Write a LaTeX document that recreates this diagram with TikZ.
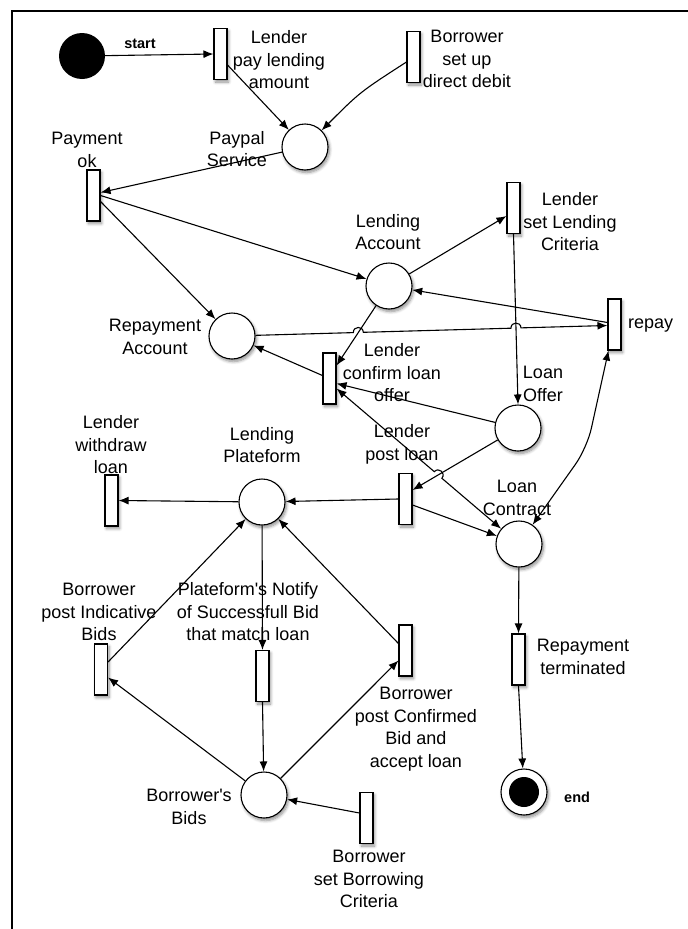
\documentclass[tikz,border=0pt]{standalone}
\usepackage{fontspec}
\setmainfont{Liberation Sans}[Ligatures=TeXOff]
\usetikzlibrary{arrows.meta,calc,intersections,shadows.blur}

\begin{document}
\begin{tikzpicture}[x=1pt,y=-1pt,
  shadowed/.style={blur shadow={shadow blur steps=6,shadow xshift=1.5pt,shadow yshift=-2.5pt,shadow blur radius=3pt,shadow opacity=45}},
  placenode/.style={circle,draw,line width=1.1pt,fill=white,minimum size=46pt,inner sep=0pt,shadowed},
  transnode/.style={rectangle,draw,line width=1.1pt,fill=white,minimum width=13pt,minimum height=51pt,inner sep=0pt,shadowed},
  lbl/.style={font=\fontsize{18}{22.5}\selectfont,align=center,inner sep=0pt},
  tag/.style={font=\bfseries\fontsize{14.5}{17}\selectfont,inner sep=0pt},
  flow/.style={draw,line width=1.1pt,-{Latex[length=10pt,width=8pt]}},
  flowboth/.style={draw,line width=1.1pt,{Latex[length=10pt,width=8pt]}-{Latex[length=10pt,width=8pt]}}]

\useasboundingbox (0,0) rectangle (688,929);
% open frame: top and left edges only
\draw[line width=1.6pt] (12,935) -- (12,11) -- (694,11);

% ---------- places ----------
\node[circle,fill=black,minimum size=46pt,inner sep=0pt] (st) at (82,56) {};
\node[placenode] (pp)   at (305,147) {};
\node[placenode] (la)   at (389,286) {};
\node[placenode] (ra)   at (232,336) {};
\node[placenode] (lo)   at (518,428) {};
\node[placenode] (lp)   at (262,502) {};
\node[placenode] (lc)   at (519,544) {};
\node[placenode] (bids) at (264,795) {};
\node[placenode,path picture={\fill[black] (path picture bounding box.center) circle[radius=15pt];}] (endc) at (524,792) {};

% ---------- transitions ----------
\node[transnode] (lpay)  at (220.5,54)  {};
\node[transnode] (dd)    at (413.5,57)  {};
\node[transnode] (pok)   at (93.5,195.5) {};
\node[transnode] (crit)  at (513.5,208) {};
\node[transnode] (repay) at (614.5,324.5) {};
\node[transnode] (conf)  at (329.5,378.5) {};
\node[transnode] (post)  at (405.5,499) {};
\node[transnode] (wd)    at (111.5,500.5) {};
\node[transnode] (pib)   at (101,669.5) {};
\node[transnode] (nt)    at (262.5,676) {};
\node[transnode] (pcb)   at (405.5,650.5) {};
\node[transnode] (rt)    at (518.5,659.5) {};
\node[transnode] (bsc)   at (366.5,818) {};

% ---------- labels ----------
\node[tag] (stL) at (140,44) {start};
\node[tag,anchor=west] (endL) at (564,797) {end};
\node[lbl] (lpayL) at (279,60) {Lender\\pay lending\\amount};
\node[lbl] (ddL)   at (467,59) {Borrower\\set up\\direct debit};
\node[lbl] (ppL)   at (237,149) {Paypal\\Service};
\node[lbl] (pokL)  at (87,150) {Payment\\ok};
\node[lbl] (laL)   at (388,232) {Lending\\Account};
\node[lbl] (critL) at (570,222) {Lender\\set Lending\\Criteria};
\node[lbl] (raL)   at (155,337) {Repayment\\Account};
\node[lbl,anchor=west] (repayL) at (628,326) {repay};
\node[lbl] (confL) at (392,373) {Lender\\confirm loan\\offer};
\node[lbl] (loL)   at (543,384) {Loan\\Offer};
\node[lbl] (wdL)   at (111,445) {Lender\\withdraw\\loan};
\node[lbl] (lpL)   at (262,445) {Lending\\Plateform};
\node[lbl] (postL) at (402,444.5) {Lender\\post loan};
\node[lbl] (lcL)   at (517,498) {Loan\\Contract};
\node[lbl] (pibL)  at (99,612) {Borrower\\post Indicative\\Bids};
\node[lbl] (ntL)   at (248,612) {Plateform's Notify\\of Successfull Bid\\that match loan};
\node[lbl] (pcbL)  at (416,729) {Borrower\\post Confirmed\\Bid and\\accept loan};
\node[lbl] (rtL)   at (583,657) {Repayment\\terminated};
\node[lbl] (bidsL) at (189,807) {Borrower's\\Bids};
\node[lbl] (bscL)  at (369,879) {Borrower\\set Borrowing\\Criteria};

% ---------- arcs ----------
\draw[flow] (st) -- (lpay.west);
\draw[flow] ([yshift=-11pt]lpay.east) -- (pp);
\draw[flow] ([yshift=-5pt]dd.west) .. controls (360,92) .. (pp);
\draw[flow] (pp) -- ([yshift=3pt]pok.east);
\draw[flow] (pok.east) -- (la);
\draw[flow] ([yshift=-6pt]pok.east) -- (ra);
\draw[flow] (la) -- ([yshift=-8pt]crit.west);
\draw[flow,name path=critlo] (crit.south) -- (lo.north);
\draw[flow] ([yshift=2pt]repay.west) -- (la);
\draw[flow,name path=laconf] (la) -- ([yshift=13pt]conf.east);
\draw[flow] (lo) -- ([yshift=-5pt]conf.east);
\draw[flow] ([yshift=3pt]conf.west) -- (ra);
\draw[flow,name path=lopost] (lo) -- ([yshift=9pt]post.east);
\draw[flow] (post.west) -- (lp);
\draw[flow] ([yshift=-6pt]post.east) -- (lc);
\draw[flow] (lp) -- (wd.east);
\draw[flow] (lp) -- (nt.north);
\draw[flow] (nt.south) -- (bids);
\draw[flow] ([yshift=7.5pt]pib.east) -- (lp);
\draw[flow] (bids) -- ([yshift=-8pt]pib.east);
\draw[flow] (bids) -- ([yshift=-10pt]pcb.west);
\draw[flow] ([yshift=7pt]pcb.west) -- (lp);
\draw[flow] ([yshift=5pt]bsc.west) -- (bids);
\draw[flow] (lc) -- (rt.north);
\draw[flow] (rt.south) -- (endc);

% repay <-> loan contract
\coordinate (rbend) at (587,448);
\draw[flowboth,rounded corners=20pt] ([xshift=-6pt]repay.south) -- (rbend) -- (lc);

% repayment account -> repay, hopping over two arcs
\path[name path=rarp] (ra) -- ([yshift=-1pt]repay.west);
\path[name intersections={of=rarp and laconf,by=ha}];
\path[name intersections={of=rarp and critlo,by=hb}];
\coordinate (ha1) at ($(ha)!5pt!(ra)$);
\coordinate (ha2) at ($(ha)!5pt!(repay.west)$);
\coordinate (hb1) at ($(hb)!5pt!(ra)$);
\coordinate (hb2) at ($(hb)!5pt!(repay.west)$);
\draw[flow] (ra) -- (ha1)
  .. controls ($(ha1)!6.67pt!90:(ha2)$) and ($(ha2)!6.67pt!-90:(ha1)$) .. (ha2)
  -- (hb1)
  .. controls ($(hb1)!6.67pt!90:(hb2)$) and ($(hb2)!6.67pt!-90:(hb1)$) .. (hb2)
  -- ([yshift=-1pt]repay.west);

% confirm loan offer <-> loan contract, hopping over the post-loan arc
\path[name path=diag] ([yshift=-10pt]conf.east) -- (lc);
\path[name intersections={of=diag and lopost,by=hc}];
\coordinate (hc1) at ($(hc)!5pt!(conf)$);
\coordinate (hc2) at ($(hc)!5pt!(lc)$);
\draw[flowboth] ([yshift=-10pt]conf.east) -- (hc1)
  .. controls ($(hc1)!6.67pt!90:(hc2)$) and ($(hc2)!6.67pt!-90:(hc1)$) .. (hc2)
  -- (lc);
\end{tikzpicture}
\end{document}
